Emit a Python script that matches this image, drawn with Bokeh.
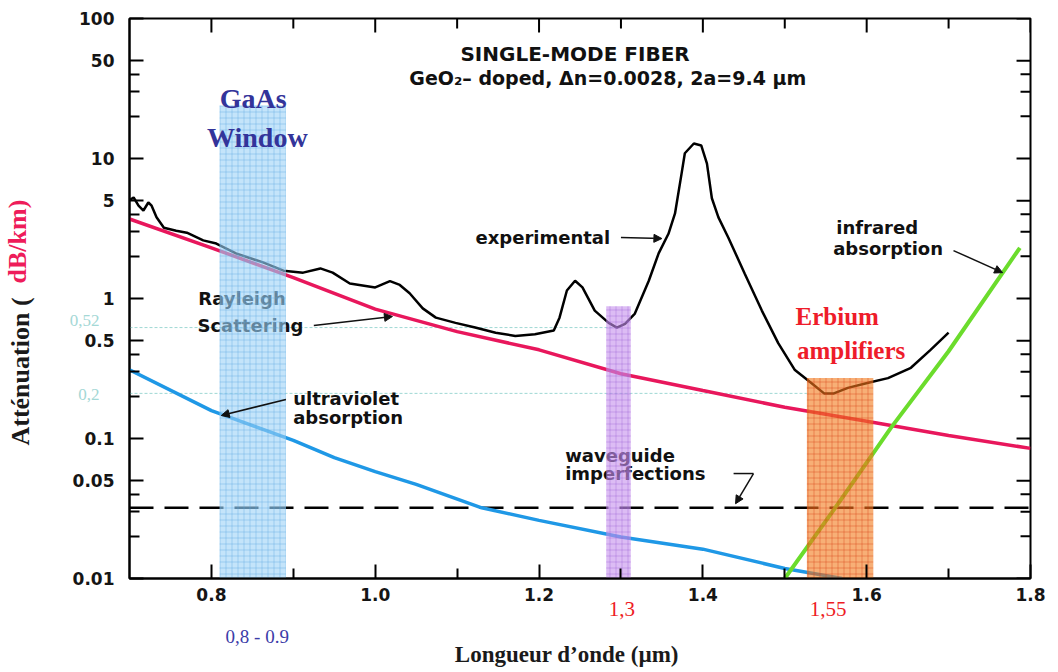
from bokeh.plotting import figure
from bokeh.models import (Range1d, FixedTicker, CustomJSTickFormatter, LinearAxis, LogAxis,
                          Arrow, NormalHead, Label)
from bokeh.core.properties import value
from bokeh.embed import file_html
from bokeh.resources import INLINE

# ---------------- data ----------------
exp_wl = [0.699, 0.705, 0.711, 0.717, 0.723, 0.727, 0.733, 0.742, 0.757, 0.770, 0.790, 0.806,
          0.830, 0.863, 0.888, 0.912, 0.933, 0.948, 0.969, 1.000, 1.018, 1.030, 1.042, 1.058,
          1.074, 1.098, 1.122, 1.147, 1.171, 1.195, 1.218, 1.225, 1.234, 1.244, 1.253, 1.268,
          1.285, 1.295, 1.305, 1.317, 1.334, 1.346, 1.358, 1.366, 1.374, 1.378, 1.389, 1.398,
          1.405, 1.411, 1.419, 1.431, 1.451, 1.472, 1.492, 1.512, 1.532, 1.548, 1.560, 1.577,
          1.602, 1.626, 1.654, 1.678, 1.700]
exp_att = [5.0, 5.27, 4.6, 4.25, 4.85, 4.6, 3.8, 3.2, 3.05, 2.95, 2.6, 2.47,
           2.10, 1.81, 1.58, 1.53, 1.64, 1.53, 1.28, 1.20, 1.33, 1.25, 1.09, 0.85,
           0.73, 0.67, 0.62, 0.57, 0.54, 0.555, 0.59, 0.73, 1.14, 1.34, 1.20, 0.82,
           0.67, 0.62, 0.66, 0.78, 1.34, 2.1, 2.9, 4.05, 7.8, 10.9, 12.8, 12.4,
           9.2, 5.2, 3.8, 2.73, 1.51, 0.82, 0.48, 0.31, 0.25, 0.21, 0.21, 0.23,
           0.25, 0.27, 0.32, 0.43, 0.57]

rayleigh_wl = [0.7, 0.8, 0.9, 1.0, 1.1, 1.2, 1.3, 1.4, 1.5, 1.6, 1.7, 1.8]
rayleigh_att = [3.7, 2.3, 1.41, 0.84, 0.58, 0.43, 0.29, 0.22, 0.167, 0.133, 0.105, 0.085]

uv_wl = [0.7, 0.8, 0.9, 0.95, 1.0, 1.05, 1.13, 1.2, 1.3, 1.4, 1.5, 1.57]
uv_att = [0.31, 0.158, 0.097, 0.073, 0.058, 0.047, 0.032, 0.026, 0.0198, 0.0162, 0.0118, 0.0100]

ir_wl = [1.5, 1.56, 1.63, 1.7, 1.787]
ir_att = [0.01, 0.031, 0.12, 0.42, 2.3]

waveguide_wl = [0.7, 1.8]
waveguide_att = [0.032, 0.032]

band_left = [0.81, 1.282, 1.527]
band_right = [0.891, 1.312, 1.608]
band_top = [23.9, 0.88, 0.27]
band_fill = ["#9dd2f7", "#c58fed", "#f27a1a"]
band_hatch = ["#5aa8e0", "#9a60d8", "#d83a10"]

ref_level = [0.62, 0.21]
ref_end = [1.3, 1.527]
ref_label_pos = [0.696, 0.205]
ref_labels = ["0,52", "0,2"]

window_pos = [0.856, 1.301, 1.553]
window_labels = ["0,8 - 0.9", "1,3", "1,55"]

x_title_pos = [1.234]
y_title_pos = [0.301, 2.55]

x_major = [0.8, 1.0, 1.2, 1.4, 1.6, 1.8]
x_minor = [0.9, 1.1, 1.3, 1.5, 1.7]
y_major = [0.01, 0.05, 0.1, 0.5, 1, 5, 10, 50, 100]
y_minor = [0.02, 0.03, 0.04, 0.2, 0.3, 0.4, 2, 3, 4, 20, 30, 40]

X0, X1 = 0.7, 1.8
Y0, Y1 = 0.01, 100

# ---------------- figure ----------------
W, H = 1050, 672
BL, BR, BT, BB = 126, 20, 18, 94
p = figure(width=W, height=H, x_range=Range1d(X0, X1), y_range=Range1d(Y0, Y1),
           y_axis_type="log", output_backend="svg", toolbar_location=None,
           min_border_left=BL, min_border_right=BR, min_border_top=BT, min_border_bottom=BB)
p.xgrid.visible = False
p.ygrid.visible = False
p.outline_line_color = "black"
p.outline_line_width = 2
p.background_fill_color = "white"
p.border_fill_color = "white"

xt = FixedTicker(ticks=x_major, minor_ticks=x_minor)
yt = FixedTicker(ticks=y_major, minor_ticks=y_minor)
MAJ, MIN = 14, 10


def style_axis(ax):
    ax.axis_line_width = 2
    ax.axis_line_color = "black"
    ax.major_tick_in = MAJ
    ax.major_tick_out = 0
    ax.minor_tick_in = MIN
    ax.minor_tick_out = 0
    ax.major_tick_line_width = 2
    ax.minor_tick_line_width = 2
    ax.major_tick_line_color = "black"
    ax.minor_tick_line_color = "black"
    ax.major_label_text_font = "DejaVu Sans"
    ax.major_label_text_font_style = "bold"
    ax.major_label_text_color = "#151515"
    ax.major_label_text_font_size = "17px"


xa = p.xaxis[0]
xa.ticker = xt
xa.formatter = CustomJSTickFormatter(code="return tick.toFixed(1)")
style_axis(xa)
xa.major_label_standoff = 9

ya = p.yaxis[0]
ya.ticker = yt
ya.formatter = CustomJSTickFormatter(code="return String(tick)")
style_axis(ya)
ya.major_label_standoff = 15


def text_axis(cls, ticks, code, color, size, standoff, bold=True, orient="horizontal"):
    ax = cls(ticker=FixedTicker(ticks=ticks), formatter=CustomJSTickFormatter(code=code))
    ax.axis_line_color = None
    ax.major_tick_line_color = None
    ax.minor_tick_line_color = None
    ax.major_tick_out = 0
    ax.major_tick_in = 0
    ax.minor_tick_out = 0
    ax.minor_tick_in = 0
    ax.major_label_text_font = "Liberation Serif"
    ax.major_label_text_font_style = "bold" if bold else "normal"
    ax.major_label_text_color = color
    ax.major_label_text_font_size = size
    ax.major_label_standoff = standoff
    ax.major_label_orientation = orient
    return ax


# left side: reference levels, then the y title (black part + red part)
ax_ref = text_axis(LogAxis, ref_label_pos, "return tick > 0.4 ? '0,52' : '0,2'",
                   "#a4d8d6", "17px", -30, bold=False)
p.add_layout(ax_ref, "left")
ax_t1 = text_axis(LogAxis, y_title_pos[:1], "return 'Att\u00e9nuation ('", "#1a1a1a", "26px",
                  31, orient="vertical")
p.add_layout(ax_t1, "left")
ax_t2 = text_axis(LogAxis, y_title_pos[1:], "return 'dB/km)'", "#ee1c5a", "26px", -29,
                  orient="vertical")
p.add_layout(ax_t2, "left")

# below: window wavelengths, then the x title
ax_red = text_axis(LinearAxis, window_pos[1:], "return tick < 1.4 ? '1,3' : '1,55'",
                   "#ee1c24", "21px", -2, bold=False)
p.add_layout(ax_red, "below")
ax_blue = text_axis(LinearAxis, window_pos[:1], "return '0,8 - 0.9'", "#3c3ca8", "19px", 7,
                    bold=False)
p.add_layout(ax_blue, "below")
ax_xt = text_axis(LinearAxis, x_title_pos, "return 'Longueur d\u2019onde (\u00b5m)'",
                  "#1a1a1a", "23px", -8)
p.add_layout(ax_xt, "below")

# ticks on the top and right frame edges (same tickers as the axes)
dec_major = 10 ** (MAJ / 140.0)
dec_minor = 10 ** (MIN / 140.0)
pxu = (X1 - X0) / (W - BL - BR)
xs_top = x_major + x_minor
p.segment(x0=xs_top, y0=[Y1] * len(xs_top), x1=xs_top,
          y1=[Y1 / dec_major] * len(x_major) + [Y1 / dec_minor] * len(x_minor),
          line_color="black", line_width=2)
ys_right = y_major + y_minor
p.segment(x0=[X1] * len(ys_right), y0=ys_right,
          x1=[X1 - MAJ * pxu] * len(y_major) + [X1 - MIN * pxu] * len(y_minor), y1=ys_right,
          line_color="black", line_width=2)

# reference dotted levels
for lvl, end in zip(ref_level, ref_end):
    p.line([X0, end], [lvl, lvl], line_color="#9fd8d4", line_width=1, line_dash="3 2")

# curves
p.line(waveguide_wl, waveguide_att, line_color="black", line_width=2.5, line_dash="24 11")
p.line(uv_wl, uv_att, line_color="#1f98e6", line_width=3.5)
p.line(rayleigh_wl, rayleigh_att, line_color="#e8175c", line_width=3.5)
p.line(ir_wl, ir_att, line_color="#6bdc2c", line_width=4)
p.line(exp_wl, exp_att, line_color="black", line_width=2.5)

# in-plot lettering (glyphs, so that the bands tint them)
lett = dict(text_font=value("DejaVu Sans"), text_font_style="bold", text_font_size="18px",
            text_baseline="middle", text_align="left", text_color="#111111")
p.text(x=[1.1224, 0.784, 0.783, 0.8998, 0.8998, 1.2319, 1.2319, 1.5628, 1.5591],
       y=[2.73, 1.0, 0.641, 0.193, 0.141, 0.0756, 0.0562, 3.21, 2.27],
       text=["experimental", "Rayleigh", "Scattering", "ultraviolet", "absorption",
             "waveguide", "imperfections", "infrared", "absorption"], **lett)
p.text(x=[1.244], y=[56.2], text=["SINGLE-MODE FIBER"], text_font=value("DejaVu Sans"),
       text_font_style="bold", text_font_size="20px", text_align="center",
       text_baseline="middle", text_color="#111111")
p.text(x=[1.284], y=[37.3], text=["GeO\u2082\u2013 doped, \u0394n=0.0028, 2a=9.4 \u03bcm"],
       text_font=value("DejaVu Sans"), text_font_style="bold", text_font_size="19px",
       text_align="center", text_baseline="middle", text_color="#111111")

# waveguide leader bar
p.line([1.4375, 1.4618], [0.0562, 0.0562], line_color="#111111", line_width=1.5)

# windows / bands
for l, r, t, fc, hc in zip(band_left, band_right, band_top, band_fill, band_hatch):
    p.quad(left=[l], right=[r], bottom=[Y0], top=[t], fill_color=fc, fill_alpha=0.6,
           line_color=None, hatch_pattern="+", hatch_color=hc, hatch_alpha=0.55,
           hatch_scale=6, hatch_weight=0.7)

# leaders with arrows
arrows = [((0.925, 0.641), (1.021, 0.744)),
          ((1.300, 2.73), (1.350, 2.68)),
          ((0.891, 0.190), (0.812, 0.146)),
          ((1.4618, 0.0562), (1.4399, 0.0342)),
          ((1.706, 2.2), (1.766, 1.53))]
for (xs, ys), (xe, ye) in arrows:
    p.add_layout(Arrow(end=NormalHead(size=8, fill_color="#111111", line_color="#111111",
                                      line_width=1),
                       x_start=xs, y_start=ys, x_end=xe, y_end=ye,
                       line_color="#111111", line_width=1.5))


def lab(x, y, text, color, size):
    p.add_layout(Label(x=x, y=y, text=text, text_color=color, text_font="Liberation Serif",
                       text_font_size=size, text_font_style="bold",
                       text_align="center", text_baseline="middle"))


lab(0.851, 26.8, "GaAs", "#33349a", "28px")
lab(0.856, 14.1, "Window", "#33349a", "28px")
lab(1.564, 0.744, "Erbium", "#ee1c2a", "25px")
lab(1.581, 0.425, "amplifiers", "#ee1c2a", "25px")

open("out.html", "w").write(file_html(p, INLINE))
